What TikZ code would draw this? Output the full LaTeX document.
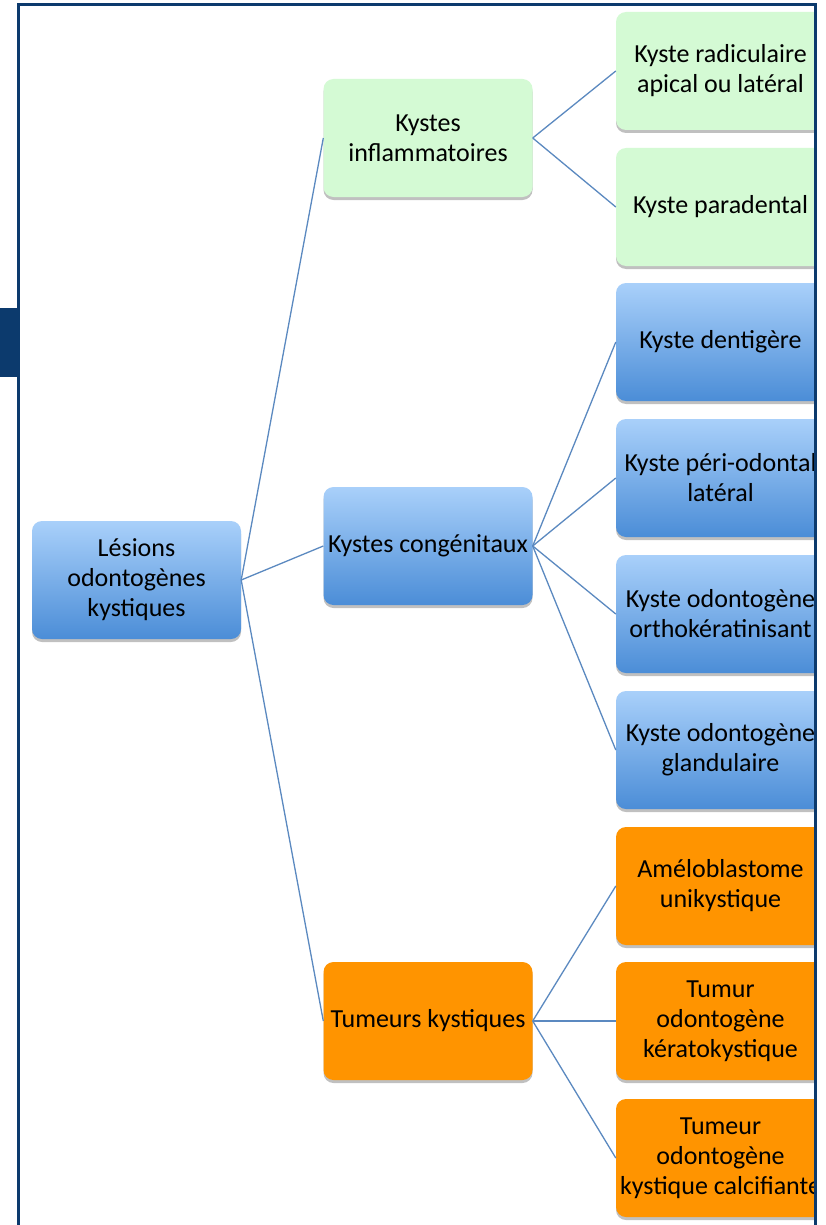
\documentclass[tikz,border=0pt]{standalone}
\usepackage{fontspec}
\setmainfont{Carlito}
\usetikzlibrary{shadows,shapes.misc}

\definecolor{framecol}{HTML}{0C3A6D}
\definecolor{linkcol}{HTML}{5B89C0}
\definecolor{greenfill}{HTML}{D4FAD4}
\definecolor{bluetop}{HTML}{A9D0FA}
\definecolor{bluebot}{HTML}{4B8DD7}
\definecolor{orangefill}{HTML}{FF9400}

\tikzset{
  box/.style={rounded corners=10pt, minimum width=209pt, minimum height=118pt,
    inner sep=0pt, align=center, font=\fontsize{26}{30}\selectfont,
    drop shadow={shadow xshift=0pt, shadow yshift=-3pt, opacity=0.35, fill=black!70}},
  greenbox/.style={box, fill=greenfill},
  bluebox/.style={box, top color=bluetop, bottom color=bluebot},
  orangebox/.style={box, fill=orangefill},
  link/.style={draw=linkcol, line width=1.3pt}
}

\begin{document}
\begin{tikzpicture}[x=1pt,y=-1pt]
  \useasboundingbox (0,0) rectangle (826,1225);
  \fill[white] (0,0) rectangle (826,1225);

  % root
  \node[bluebox] (root) at (136.5,580) {Lésions\\odontogènes\\kystiques};

  % second level
  \node[greenbox] (infl) at (428,138) {Kystes\\inflammatoires};
  \node[bluebox] (cong) at (428,546) {Kystes congénitaux};
  \node[orangebox] (tum) at (428,1021) {Tumeurs kystiques};

  % leaves
  \node[greenbox] (l1) at (720.5,71) {Kyste radiculaire\\apical ou latéral};
  \node[greenbox] (l2) at (720.5,207) {Kyste paradental};
  \node[bluebox] (l3) at (720.5,342) {Kyste dentigère};
  \node[bluebox] (l4) at (720.5,478) {Kyste péri-odontal\\latéral};
  \node[bluebox] (l5) at (720.5,614) {Kyste odontogène\\orthokératinisant};
  \node[bluebox] (l6) at (720.5,750) {Kyste odontogène\\glandulaire};
  \node[orangebox] (l7) at (720.5,886) {Améloblastome\\unikystique};
  \node[orangebox] (l8) at (720.5,1021) {Tumur\\odontogène\\kératokystique};
  \node[orangebox] (l9) at (720.5,1158) {Tumeur\\odontogène\\kystique calcifiante};

  % connectors
  \draw[link] (root.east) -- (infl.west);
  \draw[link] (root.east) -- (cong.west);
  \draw[link] (root.east) -- (tum.west);
  \draw[link] (infl.east) -- (l1.west);
  \draw[link] (infl.east) -- (l2.west);
  \draw[link] (cong.east) -- (l3.west);
  \draw[link] (cong.east) -- (l4.west);
  \draw[link] (cong.east) -- (l5.west);
  \draw[link] (cong.east) -- (l6.west);
  \draw[link] (tum.east) -- (l7.west);
  \draw[link] (tum.east) -- (l8.west);
  \draw[link] (tum.east) -- (l9.west);

  % margin past the right edge of the frame
  \fill[white] (817,0) rectangle (826,1225);

  % frame and side tab
  \draw[framecol, line width=3pt] (18.5,1225) -- (18.5,5) -- (815,5) -- (815,1225);
  \fill[framecol] (0,308) rectangle (17,377);
\end{tikzpicture}
\end{document}
